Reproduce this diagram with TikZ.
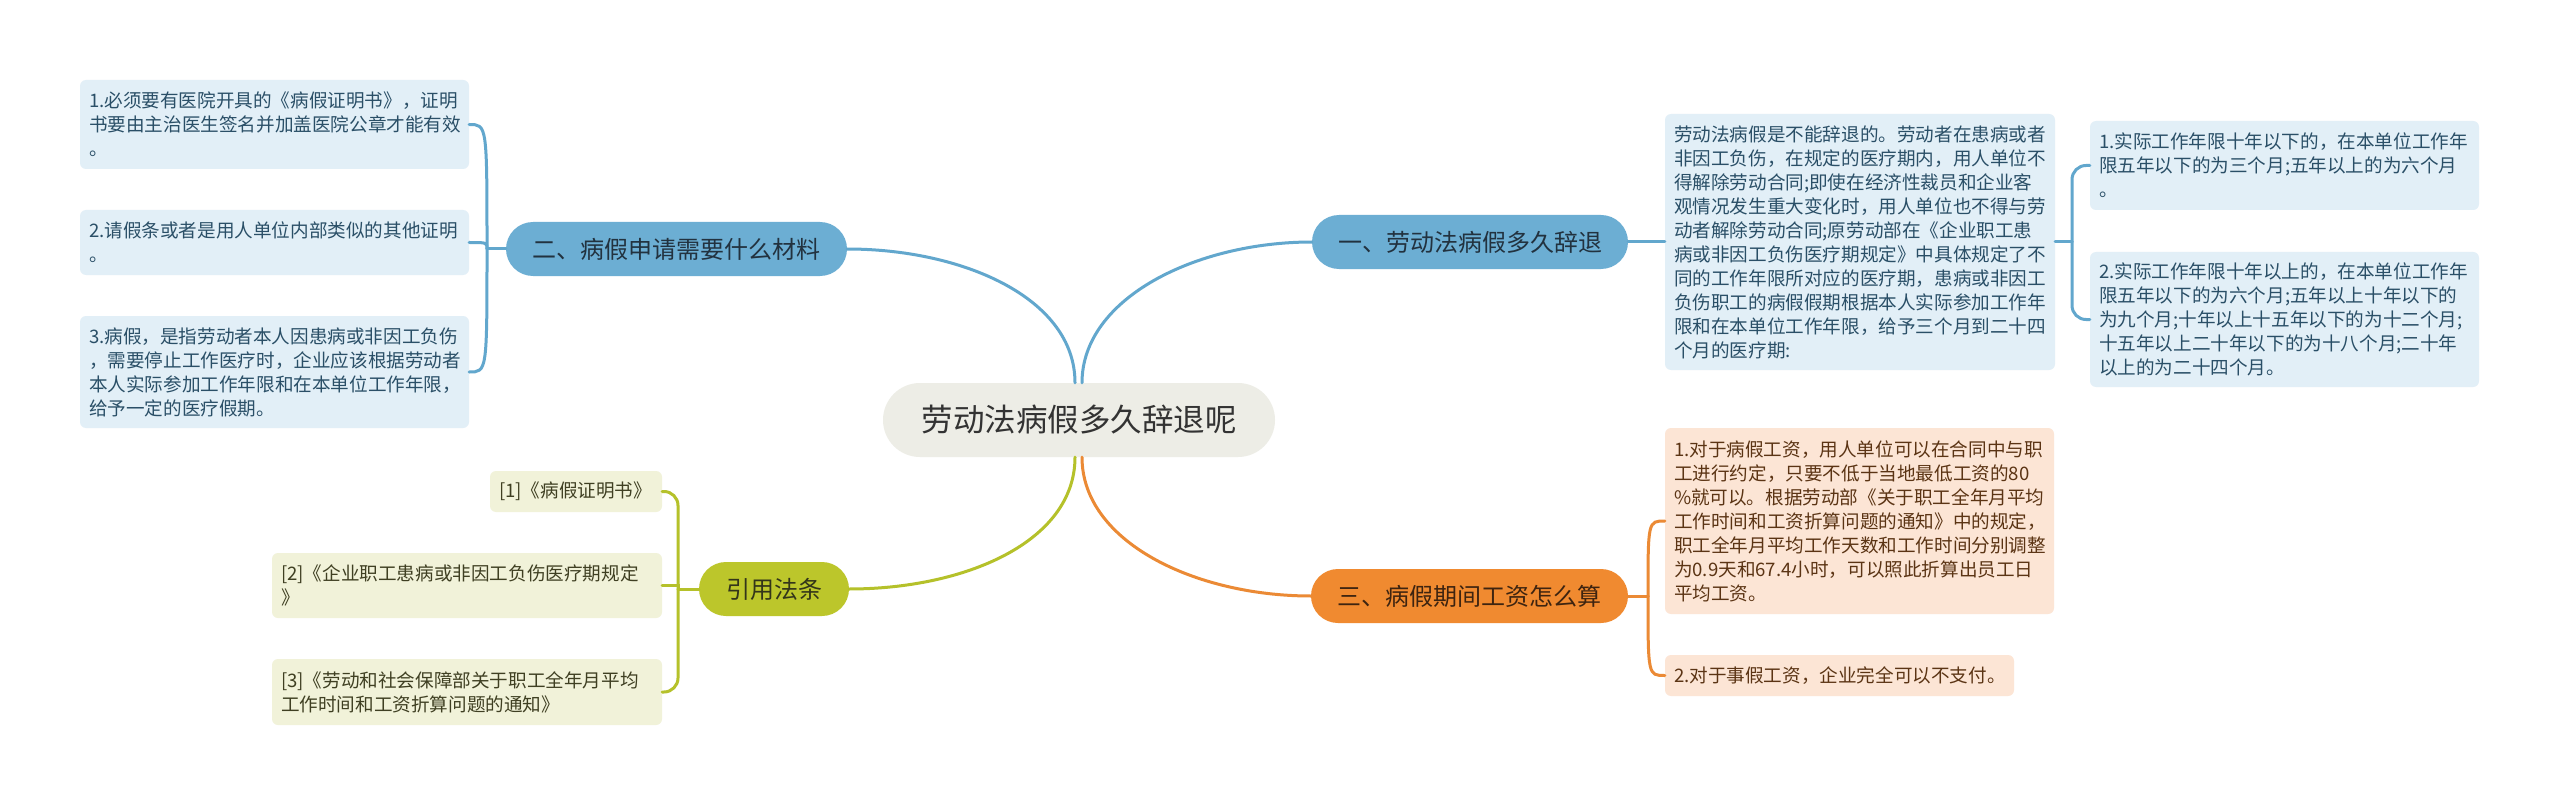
\documentclass[tikz,border=0pt]{standalone}
\usepackage{fontspec}
\setmainfont{Noto Sans CJK SC}
\newfontfamily\cjk{Noto Sans CJK SC}
\usetikzlibrary{calc}
\definecolor{cbg}{HTML}{EDEDE6}
\definecolor{ctext}{HTML}{333333}
\definecolor{bnode}{HTML}{6CAED3}
\definecolor{bleaffill}{HTML}{E2EFF7}
\definecolor{bline}{HTML}{62A7CD}
\definecolor{btext}{HTML}{2A4F67}
\definecolor{bntext}{HTML}{22323F}
\definecolor{onode}{HTML}{F08A30}
\definecolor{oleaffill}{HTML}{FCE5D5}
\definecolor{oline}{HTML}{EB8A35}
\definecolor{otext}{HTML}{5B3414}
\definecolor{ontext}{HTML}{3E2410}
\definecolor{gnode}{HTML}{BCC62B}
\definecolor{gleaffill}{HTML}{F1F2D9}
\definecolor{gline}{HTML}{B5C12A}
\definecolor{gtext}{HTML}{3F3F22}
\definecolor{gntext}{HTML}{33351A}
\begin{document}
\begin{tikzpicture}[x=1pt,y=-1pt,
  leaf/.style={rounded corners=6pt, inner xsep=9pt, inner ysep=0pt, align=left,
    font=\cjk\fontsize{18.6}{24}\selectfont},
  bleaf/.style={leaf, fill=bleaffill, text=btext},
  oleaf/.style={leaf, fill=oleaffill, text=otext},
  gleaf/.style={leaf, fill=gleaffill, text=gtext},
  branch/.style={rounded corners=27pt, inner sep=0pt, minimum height=54pt,
    font=\cjk\fontsize{24}{28}\selectfont},
  bbranch/.style={branch, fill=bnode, text=bntext},
  obranch/.style={branch, fill=onode, text=ontext},
  gbranch/.style={branch, fill=gnode, text=gntext},
  conn/.style={line width=3pt, line cap=round},
  bconn/.style={conn, draw=bline},
  oconn/.style={conn, draw=oline},
  gconn/.style={conn, draw=gline}]
\useasboundingbox (0,0) rectangle (2560,805);
\fill[white] (0,0) rectangle (2560,805);

% central
\node[fill=cbg, rounded corners=37pt, minimum width=392pt, minimum height=74pt,
  inner sep=0pt, text=ctext, font=\cjk\fontsize{31.5}{36}\selectfont] (c) at (1079,420) {劳动法病假多久辞退呢};

% branches
\node[bbranch, minimum width=316pt] (b1) at (1470,242) {一、劳动法病假多久辞退};
\node[bbranch, minimum width=341pt] (b2) at (676.5,249) {二、病假申请需要什么材料};
\node[obranch, minimum width=317pt] (b3) at (1469.5,596) {三、病假期间工资怎么算};
\node[gbranch, minimum width=150pt] (b4) at (774,589) {引用法条};

% left blue leaves
\node[bleaf, minimum width=389pt, minimum height=89pt, text width=371pt] (l1) at (274.5,124.5)
 {1.必须要有医院开具的《病假证明书》，证明\\书要由主治医生签名并加盖医院公章才能有效\\。};
\node[bleaf, minimum width=389pt, minimum height=65pt, text width=371pt] (l2) at (274.5,242.5)
 {2.请假条或者是用人单位内部类似的其他证明\\。};
\node[bleaf, minimum width=389pt, minimum height=112pt, text width=371pt] (l3) at (274.5,372)
 {3.病假，是指劳动者本人因患病或非因工负伤\\，需要停止工作医疗时，企业应该根据劳动者\\本人实际参加工作年限和在本单位工作年限，\\给予一定的医疗假期。};

% right blue leaves
\node[bleaf, minimum width=390pt, minimum height=256pt, text width=372pt] (p) at (1860,242)
 {劳动法病假是不能辞退的。劳动者在患病或者\\非因工负伤，在规定的医疗期内，用人单位不\\得解除劳动合同;即使在经济性裁员和企业客\\观情况发生重大变化时，用人单位也不得与劳\\动者解除劳动合同;原劳动部在《企业职工患\\病或非因工负伤医疗期规定》中具体规定了不\\同的工作年限所对应的医疗期，患病或非因工\\负伤职工的病假假期根据本人实际参加工作年\\限和在本单位工作年限，给予三个月到二十四\\个月的医疗期:};
\node[bleaf, minimum width=389pt, minimum height=89pt, text width=371pt] (r1) at (2284.5,165.5)
 {1.实际工作年限十年以下的，在本单位工作年\\限五年以下的为三个月;五年以上的为六个月\\。};
\node[bleaf, minimum width=389pt, minimum height=135pt, text width=371pt] (r2) at (2284.5,319.5)
 {2.实际工作年限十年以上的，在本单位工作年\\限五年以下的为六个月;五年以上十年以下的\\为九个月;十年以上十五年以下的为十二个月;\\十五年以上二十年以下的为十八个月;二十年\\以上的为二十四个月。};

% orange leaves
\node[oleaf, minimum width=389pt, minimum height=186pt, text width=371pt] (o1) at (1859.5,521)
 {1.对于病假工资，用人单位可以在合同中与职\\工进行约定，只要不低于当地最低工资的80\\\%就可以。根据劳动部《关于职工全年月平均\\工作时间和工资折算问题的通知》中的规定，\\职工全年月平均工作天数和工作时间分别调整\\为0.9天和67.4小时，可以照此折算出员工日\\平均工资。};
\node[oleaf, minimum width=349pt, minimum height=41pt, text width=331pt] (o2) at (1839.5,675.5)
 {2.对于事假工资，企业完全可以不支付。};

% olive leaves
\node[gleaf, minimum width=172pt, minimum height=41pt, text width=154pt] (g1) at (576,491.5)
 {[1]《病假证明书》};
\node[gleaf, minimum width=390pt, minimum height=65pt, text width=372pt] (g2) at (467,585.5)
 {[2]《企业职工患病或非因工负伤医疗期规定\\》};
\node[gleaf, minimum width=390pt, minimum height=66pt, text width=372pt] (g3) at (467,692)
 {[3]《劳动和社会保障部关于职工全年月平均\\工作时间和工资折算问题的通知》};

% central connectors
\coordinate (ctl) at ($(c.north)+(-4,0)$);
\coordinate (ctr) at ($(c.north)+(3,0)$);
\coordinate (cbl) at ($(c.south)+(-4,0)$);
\coordinate (cbr) at ($(c.south)+(3,0)$);
\draw[bconn] (ctl) .. controls +(0,-85) and +(115,0) .. (b2.east);
\draw[bconn] (ctr) .. controls +(0,-85) and +(-115,0) .. (b1.west);
\draw[gconn] (cbl) .. controls +(0,85) and +(115,0) .. (b4.east);
\draw[oconn] (cbr) .. controls +(0,85) and +(-115,0) .. (b3.west);

% branch 二
\coordinate (j2) at (487,249);
\draw[bconn] (b2.west) -- (j2);
\draw[bconn] (j2) .. controls (j2 |- l1.east) .. (l1.east);
\draw[bconn] (j2) .. controls (j2 |- l2.east) .. (l2.east);
\draw[bconn] (j2) .. controls (j2 |- l3.east) .. (l3.east);

% branch 一
\coordinate (j1) at (2072,242);
\draw[bconn] (b1.east) -- (p.west);
\draw[bconn] (p.east) -- (j1);
\draw[bconn, rounded corners=14pt] (j1) |- (r1.west);
\draw[bconn, rounded corners=14pt] (j1) |- (r2.west);

% branch 三
\coordinate (j3) at (1648,596);
\draw[oconn] (b3.east) -- (j3);
\draw[oconn] (j3) .. controls (j3 |- o1.west) .. (o1.west);
\draw[oconn] (j3) .. controls (j3 |- o2.west) .. (o2.west);

% branch 引用法条
\coordinate (j4) at (678,589);
\draw[gconn] (b4.west) -- (j4);
\draw[gconn, rounded corners=14pt] (j4) |- (g1.east);
\draw[gconn] (j4) |- (g2.east);
\draw[gconn, rounded corners=14pt] (j4) |- (g3.east);
\end{tikzpicture}
\end{document}
